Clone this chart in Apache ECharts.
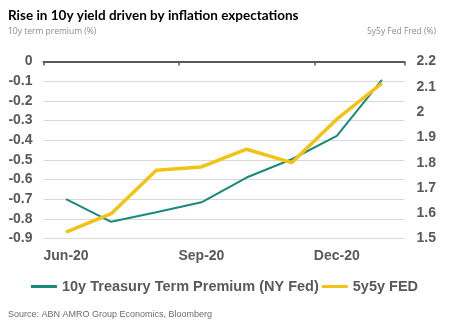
<!DOCTYPE html>
<html>
<head>
<meta charset="utf-8">
<script src="https://cdn.jsdelivr.net/npm/echarts@6/dist/echarts.min.js"></script>
<style>
  html, body { margin: 0; padding: 0; background: #fff; }
  #chart { width: 449px; height: 328px; }
</style>
</head>
<body>
<div id="chart"></div>
<script>
// Monthly observations, Jun-20 .. Jan-21
const months = ['Jun-20', 'Jul-20', 'Aug-20', 'Sep-20', 'Oct-20', 'Nov-20', 'Dec-20', 'Jan-21'];
const termPremium = [-0.70, -0.815, -0.767, -0.716, -0.59, -0.497, -0.378, -0.093];
const fiveYFiveY = [1.525, 1.598, 1.770, 1.783, 1.853, 1.800, 1.972, 2.114];

const leftTicks = { min: -0.9, max: 0, step: 0.1 };
const rightTicks = { min: 1.5, max: 2.2, step: 0.1 };

const seriesNames = ['10y Treasury Term Premium (NY Fed)', '5y5y FED'];
const GREEN = '#178a7c';
const YELLOW = '#f2c314';
const AXIS_TEXT = '#595959';

const chart = echarts.init(document.getElementById('chart'), null, { renderer: 'canvas' });

chart.setOption({
  backgroundColor: '#ffffff',
  animation: false,
  textStyle: { fontFamily: 'Liberation Sans, Arial, sans-serif' },
  title: [
    {
      text: 'Rise in 10y yield driven by inflation expectations',
      left: 3, top: 4,
      textStyle: { fontFamily: 'Lato', fontWeight: 'bold', fontSize: 13.5, color: '#000' }
    },
    {
      text: '10y term premium (%)',
      left: 3, top: 22,
      textStyle: { fontFamily: 'Open Sans', fontWeight: 'normal', fontSize: 8.5, color: '#8c8c8c' }
    },
    {
      text: '5y5y Fed Fred (%)',
      right: 8, top: 22,
      textStyle: { fontFamily: 'Open Sans', fontWeight: 'normal', fontSize: 8.5, color: '#8c8c8c' }
    },
    {
      text: 'Source: ABN AMRO Group Economics, Bloomberg',
      left: 3, top: 305,
      textStyle: { fontFamily: 'Liberation Sans', fontWeight: 'normal', fontSize: 9, color: '#6b6b6b' }
    }
  ],
  legend: {
    data: seriesNames,
    left: 'center',
    top: 274,
    icon: 'rect',
    itemWidth: 26,
    itemHeight: 3,
    itemGap: 3,
    textStyle: { fontFamily: 'Liberation Sans', fontWeight: 'bold', fontSize: 14.5, color: AXIS_TEXT }
  },
  grid: { left: 43.5, right: 44.5, top: 61.5, bottom: 89.5, containLabel: false },
  xAxis: [
    {
      type: 'category',
      position: 'top',
      data: months,
      boundaryGap: true,
      axisLine: { show: true, lineStyle: { color: '#595959', width: 2 } },
      axisTick: { show: true, inside: true, length: 4, interval: 2, lineStyle: { color: '#595959', width: 1.5 } },
      axisLabel: { show: false, interval: 2 },
      splitLine: { show: false }
    },
    {
      type: 'category',
      position: 'bottom',
      data: months,
      boundaryGap: true,
      axisLine: { show: false },
      axisTick: { show: false },
      axisLabel: {
        show: true, interval: 2, margin: 11,
        fontFamily: 'Liberation Sans', fontWeight: 'bold', fontSize: 14, color: AXIS_TEXT
      },
      splitLine: { show: false }
    }
  ],
  yAxis: [
    {
      type: 'value',
      min: leftTicks.min, max: leftTicks.max, interval: leftTicks.step,
      position: 'left',
      axisLine: { show: false },
      axisTick: { show: false },
      splitLine: { show: true, lineStyle: { color: '#d9d9d9', width: 1 } },
      axisLabel: {
        margin: 11,
        showMinLabel: true,
        showMaxLabel: true,
        fontFamily: 'Liberation Sans', fontWeight: 'bold', fontSize: 14, color: AXIS_TEXT,
        formatter: function (v) { return String(Math.round(v * 10) / 10); }
      }
    },
    {
      type: 'value',
      min: rightTicks.min, max: rightTicks.max, interval: rightTicks.step,
      position: 'right',
      axisLine: { show: false },
      axisTick: { show: false },
      splitLine: { show: false },
      axisLabel: {
        margin: 12,
        showMinLabel: true,
        showMaxLabel: true,
        fontFamily: 'Liberation Sans', fontWeight: 'bold', fontSize: 14, color: AXIS_TEXT,
        formatter: function (v) { return String(Math.round(v * 10) / 10); }
      }
    }
  ],
  series: [
    {
      name: seriesNames[0],
      type: 'line',
      xAxisIndex: 0,
      yAxisIndex: 0,
      data: termPremium,
      symbol: 'none',
      color: GREEN,
      lineStyle: { color: GREEN, width: 2 },
      z: 2
    },
    {
      name: seriesNames[1],
      type: 'line',
      xAxisIndex: 0,
      yAxisIndex: 1,
      data: fiveYFiveY,
      symbol: 'none',
      color: YELLOW,
      lineStyle: { color: YELLOW, width: 3.5 },
      z: 3
    }
  ]
});
</script>
</body>
</html>
